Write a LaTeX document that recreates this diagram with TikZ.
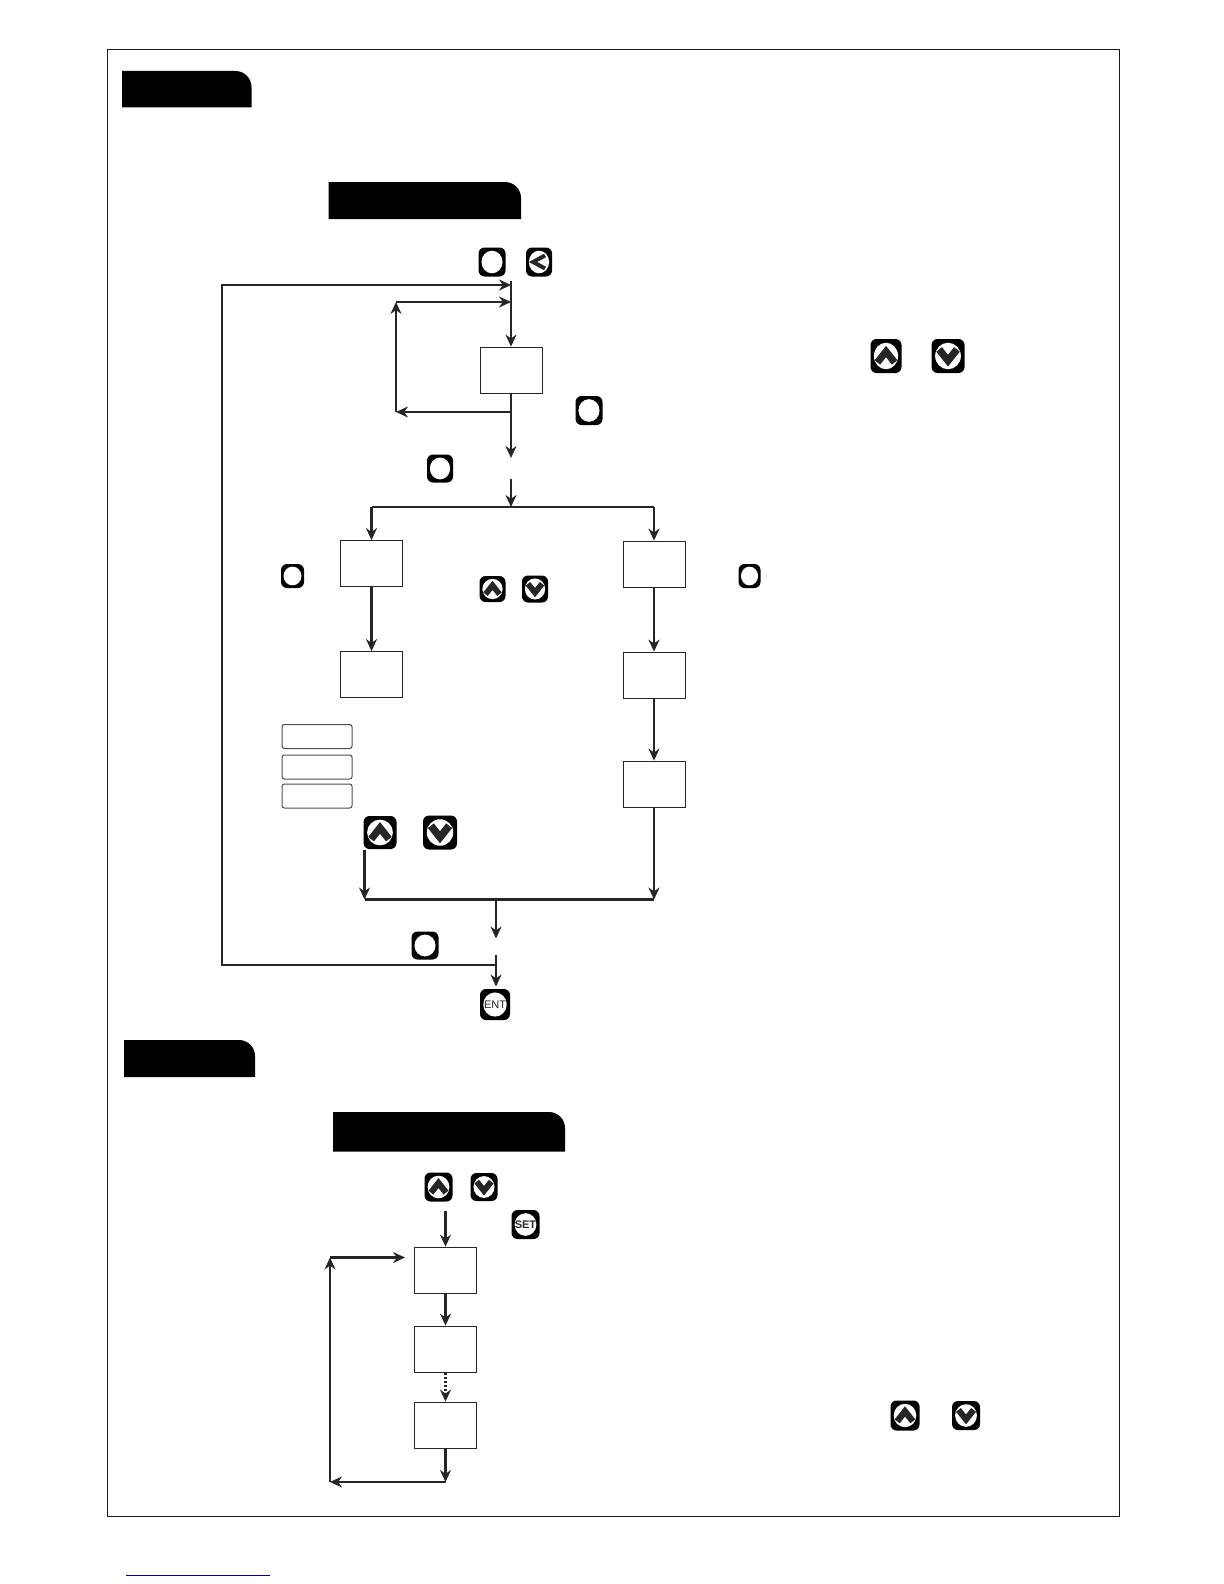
\documentclass[tikz,border=0pt]{standalone}
\usepackage{fontspec}
\setmainfont{Liberation Sans}
\usetikzlibrary{arrows.meta}
\tikzset{
	flowbox/.style={draw=black!85, fill=white, line width=0.4pt, minimum width=31pt, minimum height=23pt, inner sep=0pt},
	rangebox/.style={draw=black!70, rounded corners=1.2pt, line width=0.5pt, minimum width=35pt, minimum height=12pt, inner sep=0pt},
	keycap/.style={fill=black, rounded corners=3pt, inner sep=0pt},
	keyword/.style={font=\fontsize{5.5}{6}\selectfont, inner sep=0pt, black!85},
	flow/.style={draw=black!85, line width=1.05pt},
}
\begin{document}
\begin{tikzpicture}[>={Stealth[length=6pt, width=5.5pt]}, x=0.5pt, y=-0.5pt]
	\useasboundingbox (0,0) rectangle (1224,1584);
	\draw[black!90, line width=0.5pt] (107.5,49.5) rectangle (1119,1516);
	\foreach \xa/\ya/\xb/\yb in {122/71/251.5/107.5, 328.5/182/521/219, 124/1040/255/1077, 333/1112/565/1151.5}
		\fill (\xa,\yb) -- (\xa,\ya) -- (\xb-16,\ya) arc (90:0:8pt) -- (\xb,\yb) -- cycle;
	\node[flowbox] (modebox) at (511,370) {};
	\node[flowbox] (leftA) at (371.5,563.5) {};
	\node[flowbox] (leftB) at (371.5,674.5) {};
	\node[flowbox] (rightA) at (654,564) {};
	\node[flowbox] (rightB) at (654,675) {};
	\node[flowbox] (rightC) at (654,784) {};
	\node[flowbox] (lowA) at (445.5,1270) {};
	\node[flowbox] (lowB) at (445.5,1349) {};
	\node[flowbox] (lowC) at (445.5,1425) {};
	\node[rangebox] (rangeA) at (317,736.5) {};
	\node[rangebox] (rangeB) at (317,767) {};
	\node[rangebox] (rangeC) at (317,796) {};
	\foreach \n/\x/\y/\w/\h in {okA/492/262/27/29, backA/539/262/26/29, upA/886/356/31/34, downA/948/356/33/34, okB/589/410.5/27/29, okC/440/468.5/26/28, okD/292.5/576/23/24, okE/749.5/576/22/24, upB/492.5/589/26/26, downB/535/589/26/27, upC/380/832.5/33/33, downC/440/832.5/34/34, okF/425/945.5/27/28, entkey/495/1004.5/30/31, upD/438.5/1187/28/29, downD/484/1187/27/28, setkey/525.5/1224.5/28/29, upE/905/1415.5/29/30, downE/966/1415.5/28/29}{
		\node[keycap, minimum width=\w*0.5pt, minimum height=\h*0.5pt] (\n) at (\x,\y) {};
		\fill[white] (\n) ellipse ({\w*0.39} and {\h*0.39});
	}
	\foreach \n/\sz in {upA/32, upB/26, upC/33, upD/28, upE/29}
		\draw[black!85, line width=\sz*0.11pt] ([shift={(-0.27*\sz,0.2*\sz)}]\n.center) -- ([shift={(0,-0.14*\sz)}]\n.center) -- ([shift={(0.27*\sz,0.2*\sz)}]\n.center);
	\foreach \n/\sz in {downA/33, downB/26, downC/34, downD/27, downE/28}
		\draw[black!85, line width=\sz*0.11pt] ([shift={(-0.27*\sz,-0.2*\sz)}]\n.center) -- ([shift={(0,0.14*\sz)}]\n.center) -- ([shift={(0.27*\sz,-0.2*\sz)}]\n.center);
	\draw[black!85, line width=2pt] ([shift={(6,-6.5)}]backA.center) -- ([shift={(-6,0)}]backA.center) -- ([shift={(6,6.5)}]backA.center);
	\node[keyword] (enttext) at (entkey) {ENT};
	\node[keyword, font=\fontsize{5.5}{6}\selectfont\bfseries] (settext) at (setkey) {SET};
	\coordinate (mainstart) at (511,281);
	\coordinate (bigtop) at (511,285);
	\coordinate (bigcorner) at (222,285);
	\coordinate (bigbottom) at (222,965);
	\coordinate (bigjoin) at (496,965);
	\coordinate (looptop) at (511,302);
	\coordinate (loopcornerA) at (396,302);
	\coordinate (loopcornerB) at (396,412);
	\coordinate (loopjoin) at (511,412);
	\coordinate (modeend) at (511,458);
	\coordinate (splitstart) at (511,479);
	\coordinate (split) at (511,507);
	\coordinate (splitleft) at (371.5,507);
	\coordinate (splitright) at (654,507);
	\coordinate (mergestart) at (364.5,850);
	\coordinate (mergeleft) at (364.5,899.5);
	\coordinate (mergeright) at (654,899.5);
	\coordinate (mergemid) at (496,899.5);
	\coordinate (mergeend) at (496,938.5);
	\coordinate (entstart) at (496,954.5);
	\coordinate (entend) at (496,986.5);
	\coordinate (lowstart) at (445.5,1211);
	\coordinate (lowend) at (445.5,1482);
	\coordinate (lowcorner) at (330,1482);
	\coordinate (lowupper) at (330,1257.5);
	\coordinate (lowreturn) at (405,1257.5);
	\coordinate (linkA) at (126,1575);
	\coordinate (linkB) at (270,1575);
	\draw[flow, ->] (mainstart) -- (modebox.north);
	\draw[flow, ->] (bigjoin) -- (bigbottom) -- (bigcorner) -- (bigtop);
	\draw[flow, ->] (loopcornerA) -- (looptop);
	\draw[flow, ->] (loopcornerB) -- (loopcornerA);
	\draw[flow, ->] (loopjoin) -- (loopcornerB);
	\draw[flow, ->] (modebox.south) -- (modeend);
	\draw[flow, ->] (splitstart) -- (split);
	\draw[flow] (splitleft) -- (splitright);
	\draw[flow, ->] (splitleft) -- (leftA.north);
	\draw[flow, ->] (splitright) -- (rightA.north);
	\draw[flow, ->] (leftA) -- (leftB);
	\draw[flow, ->] (rightA) -- (rightB);
	\draw[flow, ->] (rightB) -- (rightC);
	\draw[flow, ->] (rightC) -- (mergeright);
	\draw[flow, ->] (mergestart) -- (mergeleft);
	\draw[flow] (mergeleft) -- (mergeright);
	\draw[flow, ->] (mergemid) -- (mergeend);
	\draw[flow, ->] (entstart) -- (entend);
	\draw[flow, ->] (lowstart) -- (lowA.north);
	\draw[flow, ->] (lowA) -- (lowB);
	\draw[flow, ->, densely dotted] (lowB) -- (lowC);
	\draw[flow, ->] (lowC) -- (lowend);
	\draw[flow, ->] (lowend) -- (lowcorner);
	\draw[flow, ->] (lowcorner) -- (lowupper);
	\draw[flow, ->] (lowupper) -- (lowreturn);
	\draw[blue!55!black, line width=0.5pt] (linkA) -- (linkB);
\end{tikzpicture}
\end{document}
